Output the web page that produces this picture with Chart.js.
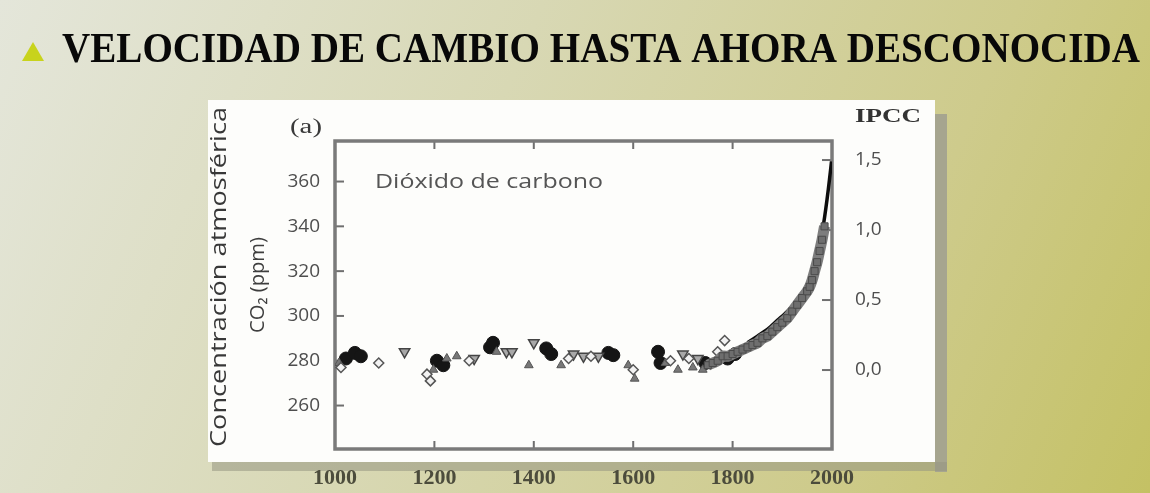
<!DOCTYPE html>
<html><head><meta charset="utf-8">
<script src="https://cdn.jsdelivr.net/npm/chart.js@4/dist/chart.umd.min.js"></script>
<style>html,body{margin:0;padding:0;overflow:hidden;background:#d6d5ae}
#wrap{position:relative;width:1150px;height:493px}</style></head>
<body><div id="wrap"><canvas id="c" width="1150" height="493"></canvas></div>
<script>
// ---- texts ----
const titleText = 'VELOCIDAD DE CAMBIO HASTA AHORA DESCONOCIDA';
const yAxisTitle = 'Concentración atmosférica';
const yAxisUnit = 'CO₂ (ppm)';
const panelLabel = '(a)';
const sourceLabel = 'IPCC';
const seriesLabel = 'Dióxido de carbono';

// ---- tick labels ----
const xTicks = [1000, 1200, 1400, 1600, 1800, 2000];
const yTicks = [260, 280, 300, 320, 340, 360];
const forcingTicks = [0, 0.5, 1, 1.5];

// ---- series: ice-core records (year, ppm) ----
const filledYears = [1022, 1040, 1052, 1205, 1218, 1312, 1318, 1425, 1435, 1550, 1560, 1650, 1655, 1745, 1790, 1805];
const filledPPM   = [281, 283.5, 282, 280, 278, 286, 288, 285.5, 283, 283.5, 282.5, 284, 279, 279, 281, 283];

const triUpYears = [1008, 1198, 1225, 1245, 1325, 1390, 1455, 1590, 1603, 1665, 1690, 1720, 1740, 1760, 1780];
const triUpPPM   = [279, 276, 281, 282, 284, 278, 278, 278, 272, 279, 276, 277, 276, 279, 282];

const triDownYears = [1140, 1280, 1345, 1356, 1400, 1480, 1500, 1530, 1700, 1730];
const triDownPPM   = [284, 281, 284, 284, 288, 283, 282, 282, 283, 281];

const diamondYears = [1012, 1088, 1185, 1192, 1270, 1470, 1515, 1600, 1675, 1712, 1770, 1784];
const diamondPPM   = [277, 279, 274, 271, 280, 281, 282, 276, 280, 281, 284, 289];

// dense band 1750-1985
const bandYears = [1750, 1760, 1770, 1780, 1790, 1800, 1810, 1820, 1830, 1840, 1850, 1860, 1870, 1880, 1890, 1900, 1910, 1920, 1930, 1940, 1950, 1955, 1960, 1965, 1970, 1975, 1980, 1985];
const bandPPM   = [278, 279, 280, 282, 282, 283, 284, 285, 286, 287, 288, 290, 291, 293, 295, 297, 299, 302, 305, 308, 311, 313, 316, 320, 324, 329, 334, 340];

// upper black curve incl. instrumental record
const lineYears = [1830, 1850, 1870, 1890, 1910, 1930, 1950, 1960, 1970, 1975, 1980, 1985, 1990, 1995, 1999];
const linePPM   = [288, 291, 294, 298, 302, 307, 313, 318, 326, 331, 337, 344, 352, 361, 369];

const pts = (xs, ys) => xs.map((x, i) => ({x, y: ys[i]}));

const txtCol = '#4e4e4e';

function fitText(ctx, text, cx, cy, width, font, color, rot) {
  ctx.save();
  ctx.font = font;
  ctx.fillStyle = color;
  ctx.textAlign = 'center';
  ctx.textBaseline = 'middle';
  const w = ctx.measureText(text).width;
  ctx.translate(cx, cy);
  if (rot) ctx.rotate(rot);
  ctx.scale(width / w, 1);
  ctx.fillText(text, 0, 0);
  ctx.restore();
}

const decor = {
  id: 'decor',
  beforeDraw(chart) {
    const ctx = chart.ctx;
    ctx.save();
    const g = ctx.createLinearGradient(0, 0, 1150, 493);
    g.addColorStop(0, '#e4e6da');
    g.addColorStop(0.4, '#d8d8b4');
    g.addColorStop(0.75, '#cecb8c');
    g.addColorStop(1, '#c4c164');
    ctx.fillStyle = g;
    ctx.fillRect(0, 0, 1150, 493);
    // panel shadow
    ctx.fillStyle = '#a6a58f';
    ctx.fillRect(935, 114, 12, 358);
    ctx.fillStyle = 'rgba(150,150,130,0.55)';
    ctx.fillRect(212, 462, 735, 9);
    // white panel
    ctx.fillStyle = '#fdfdfb';
    ctx.fillRect(208, 100, 727, 362);
    // title bullet
    ctx.fillStyle = '#c8d31c';
    ctx.beginPath();
    ctx.moveTo(22, 61); ctx.lineTo(44, 61); ctx.lineTo(33, 42); ctx.closePath();
    ctx.fill();
    // title
    ctx.font = 'bold 43px "Liberation Serif"';
    ctx.fillStyle = '#080808';
    ctx.textBaseline = 'alphabetic';
    ctx.textAlign = 'left';
    const tw = ctx.measureText(titleText).width;
    ctx.translate(62, 62);
    ctx.scale(1078 / tw, 1);
    ctx.fillText(titleText, 0, 0);
    ctx.restore();

    fitText(ctx, yAxisTitle, 220, 277, 340, '22px "Open Sans"', '#383838', -Math.PI / 2);
    fitText(ctx, yAxisUnit, 258, 285, 96, '20px "Open Sans"', '#3e3e3e', -Math.PI / 2);
    fitText(ctx, panelLabel, 306, 128, 32, '20px "Liberation Serif"', '#3a3a3a');
    fitText(ctx, sourceLabel, 888, 117, 66, 'bold 19px "Liberation Serif"', '#333');
    fitText(ctx, seriesLabel, 489, 182, 228, '20px "Open Sans"', '#555');
  },
  beforeDatasetsDraw(chart) {
    const ctx = chart.ctx;
    const a = chart.chartArea;
    const sx = chart.scales.x, sy = chart.scales.y, s2 = chart.scales.y2;
    ctx.save();
    ctx.strokeStyle = '#6f6f6f';
    ctx.lineWidth = 2;
    sx.ticks.forEach(t => {
      if (t.value <= 1000 || t.value >= 2000) return;
      const p = sx.getPixelForValue(t.value);
      ctx.beginPath();
      ctx.moveTo(p, a.top); ctx.lineTo(p, a.top + 8);
      ctx.moveTo(p, a.bottom); ctx.lineTo(p, a.bottom - 8);
      ctx.stroke();
    });
    sy.ticks.forEach(t => {
      const p = sy.getPixelForValue(t.value);
      ctx.beginPath(); ctx.moveTo(a.left, p); ctx.lineTo(a.left + 9, p); ctx.stroke();
    });
    s2.ticks.forEach(t => {
      const p = s2.getPixelForValue(t.value);
      ctx.beginPath(); ctx.moveTo(a.right, p); ctx.lineTo(a.right - 10, p); ctx.stroke();
    });
    // frame
    ctx.strokeStyle = '#7a7a7a';
    ctx.lineWidth = 3.5;
    ctx.strokeRect(a.left, a.top, a.right - a.left, a.bottom - a.top);
    ctx.restore();
  }
};

const hideAll = {display: false};
const tickFont = {family: '"Open Sans"', size: 19};

new Chart(document.getElementById('c'), {
  type: 'scatter',
  data: {
    datasets: [
      {label: 'band', data: pts(bandYears, bandPPM), showLine: true, borderColor: '#7d7d7d', borderWidth: 11,
       pointStyle: 'rect', pointRadius: 5, backgroundColor: '#6e6e6e', pointBorderColor: '#4a4a4a', pointBorderWidth: 1, tension: 0.3},
      {label: 'diamonds', data: pts(diamondYears, diamondPPM), pointStyle: 'rectRot', pointRadius: 5,
       backgroundColor: '#f2f2f2', borderColor: '#555', borderWidth: 1.5},
      {label: 'triDown', data: pts(triDownYears, triDownPPM), pointStyle: 'triangle', rotation: 180, pointRadius: 6,
       backgroundColor: '#a8a8a8', borderColor: '#444', borderWidth: 1.5},
      {label: 'triUp', data: pts(triUpYears, triUpPPM), pointStyle: 'triangle', pointRadius: 5,
       backgroundColor: '#777', borderColor: '#555', borderWidth: 1},
      {label: 'filled', data: pts(filledYears, filledPPM), pointStyle: 'circle', pointRadius: 6.5,
       backgroundColor: '#151515', borderColor: '#151515', borderWidth: 1},
      {label: 'curve', data: pts(lineYears, linePPM), showLine: true, borderColor: '#0d0d0d', borderWidth: 3.5,
       pointRadius: 0, tension: 0.3}
    ]
  },
  options: {
    responsive: false,
    animation: false,
    devicePixelRatio: 1,
    layout: {padding: {left: 275, right: 258, top: 141, bottom: 0}},
    plugins: {legend: hideAll, tooltip: {enabled: false}, title: hideAll},
    scales: {
      x: {
        type: 'linear', position: 'bottom', min: 1000, max: 2000,
        afterFit: s => { s.height = 44; },
        afterBuildTicks: s => { s.ticks = xTicks.map(v => ({value: v})); },
        ticks: {padding: 8, color: '#4c4c3c', font: {family: '"Liberation Serif"', size: 22, weight: 'bold'},
                callback: v => String(v), maxRotation: 0, autoSkip: false},
        grid: hideAll, border: hideAll
      },
      y: {
        type: 'linear', position: 'left', min: 240.6, max: 378.1,
        afterFit: s => { s.width = 60; },
        afterBuildTicks: s => { s.ticks = yTicks.map(v => ({value: v})); },
        ticks: {padding: 7, color: txtCol, font: tickFont, callback: v => String(v)},
        grid: hideAll, border: hideAll
      },
      y2: {
        type: 'linear', position: 'right', min: -0.564, max: 1.636,
        afterFit: s => { s.width = 60; },
        afterBuildTicks: s => { s.ticks = forcingTicks.map(v => ({value: v})); },
        ticks: {padding: 15, color: txtCol, font: tickFont, callback: v => v.toFixed(1).replace('.', ',')},
        grid: hideAll, border: hideAll
      }
    }
  },
  plugins: [decor]
});
</script>
</body></html>
